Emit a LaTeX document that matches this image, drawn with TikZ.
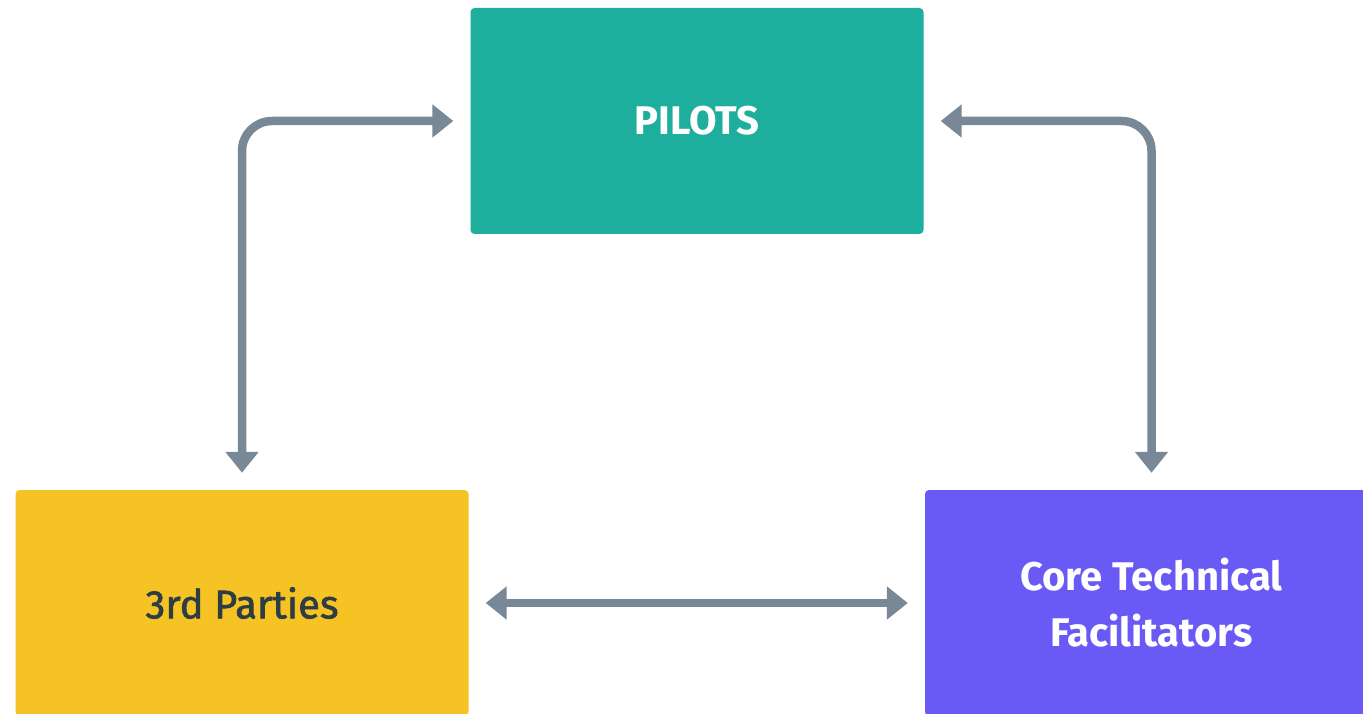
\documentclass[tikz,border=0pt]{standalone}
\usepackage{fontspec}
\setmainfont{Fira Sans}
\newfontfamily\medfont[FakeBold=1.6]{Fira Sans}
\usetikzlibrary{arrows.meta}

\definecolor{pilotteal}{HTML}{1DAE9E}
\definecolor{partyyellow}{HTML}{F6C325}
\definecolor{corepurple}{HTML}{6A5AF5}
\definecolor{linkgray}{HTML}{798896}
\definecolor{inkdark}{HTML}{2E3D44}

\tikzset{
    box/.style={rounded corners=4pt, minimum width=453pt, minimum height=226pt, align=center, font=\fontsize{40}{56}\selectfont\bfseries},
    link/.style={draw=linkgray, line width=8.5pt, rounded corners=30pt, shorten <=17pt, shorten >=17pt, {Triangle[length=21pt,width=32pt]}-{Triangle[length=21pt,width=32pt]}}
}

\begin{document}
\begin{tikzpicture}[x=1pt, y=-1pt]
    \useasboundingbox (0, 0) rectangle (1363, 714);
    \fill[white] (0, 0) rectangle (1363, 714);
    \begin{scope}
        \clip (0, 0) rectangle (1363, 714);

        \node[box, fill=pilotteal, text=white] (pilots) at (697, 121) {PILOTS};
        \node[box, fill=partyyellow, text=inkdark, font=\fontsize{40}{56}\selectfont\medfont] (parties) at (242, 603) {3rd Parties};
        \node[box, fill=corepurple, text=white] (core) at (1151.5, 603) {Core Technical\\Facilitators};

        \draw[link] (parties.north) |- (pilots.west);
        \draw[link] (core.north) |- (pilots.east);
        \draw[link] (parties.east) -- (core.west);
    \end{scope}
\end{tikzpicture}
\end{document}
